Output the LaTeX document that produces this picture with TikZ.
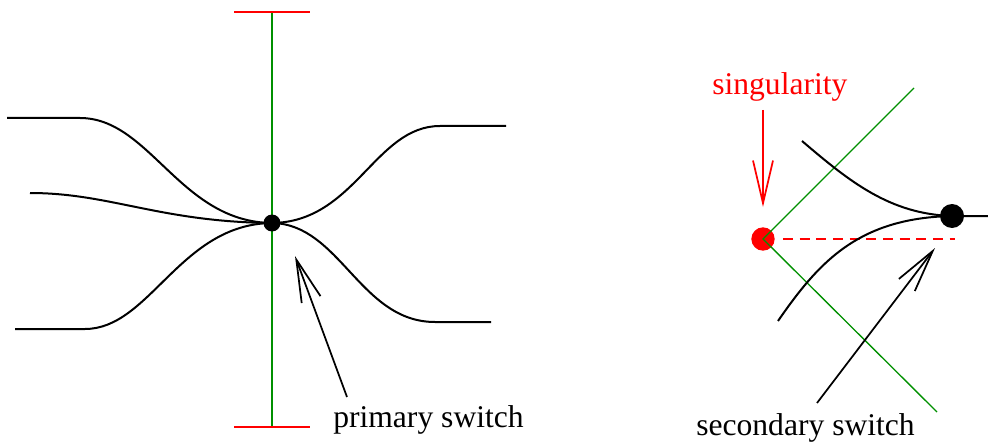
\documentclass[tikz,border=0pt]{standalone}
\usepackage{fontspec}
\setmainfont{Liberation Serif}
\usetikzlibrary{arrows.meta}
\definecolor{figgreen}{RGB}{0,144,0}
\tikzset{
	branch/.style={color=black, line width=1.5pt},
	axis/.style={color=figgreen, line width=1.3pt},
	bar/.style={color=red, line width=1.4pt},
	pointer/.style={line width=1.3pt, -{Straight Barb[length=32pt, width=15pt]}},
	label/.style={inner sep=0pt, anchor=base west, font=\fontsize{23.7}{28}\selectfont},
	dot/.style={circle, fill=#1, inner sep=0pt}
}
\begin{document}
\begin{tikzpicture}[x=0.75pt, y=-0.75pt]
		\useasboundingbox (0,0) rectangle (988,442);
		% primary switch
		\coordinate (top) at (272,12);
		\coordinate (bot) at (272,427);
		\draw [axis] (top) -- (bot);
		\draw [bar] (234,12) -- (310,12);
		\draw [bar] (234,427) -- (310,427);
		\node [dot=black, minimum size=12.75pt] (prim) at (272,223) {};
		\draw [branch] (7,118) -- (80,118) .. controls (150,118) and (180,222) .. (prim.center);
		\draw [branch] (30,193) .. controls (110,193) and (160,222) .. (prim.center);
		\draw [branch] (15,329) -- (85,329) .. controls (150,329) and (180,224) .. (prim.center);
		\draw [branch] (prim.center) .. controls (355,222) and (375,126) .. (440,126) -- (506,126);
		\draw [branch] (prim.center) .. controls (340,224) and (360,322) .. (435,322) -- (491,322);
		\node [label] (primtext) at (333,427) {primary switch};
		\coordinate (ptail) at (347,397);
		\coordinate (ptip) at (295,256);
		\draw [pointer] (ptail) -- (ptip);
		% secondary switch
		\coordinate (gup) at (914,88);
		\coordinate (gdown) at (937,412);
		\node [dot=red, minimum size=17.5pt] (sing) at (763,239) {};
		\draw [color=figgreen, line width=1pt] (gup) -- (sing.center) -- (gdown);
		\node [dot=black, minimum size=18pt] (sec) at (952,216) {};
		\draw [red, line width=1.2pt, dash pattern=on 7.5pt off 5pt] (783,239) -- (955,239);
		\draw [branch] (802,141) .. controls (850,182) and (890,214) .. (sec.center);
		\draw [branch] (778,321) .. controls (820,260) and (860,218) .. (sec.center) -- (988,216);
		\node [label] (sectext) at (696,435) {secondary switch};
		\coordinate (stail) at (817,403);
		\coordinate (stip) at (935,248);
		\draw [pointer] (stail) -- (stip);
		\node [label, text=red] (singtext) at (712,95) {singularity};
		\coordinate (rtail) at (763,110);
		\coordinate (rtip) at (763,207);
		\draw [pointer, red] (rtail) -- (rtip);
	\end{tikzpicture}
\end{document}
